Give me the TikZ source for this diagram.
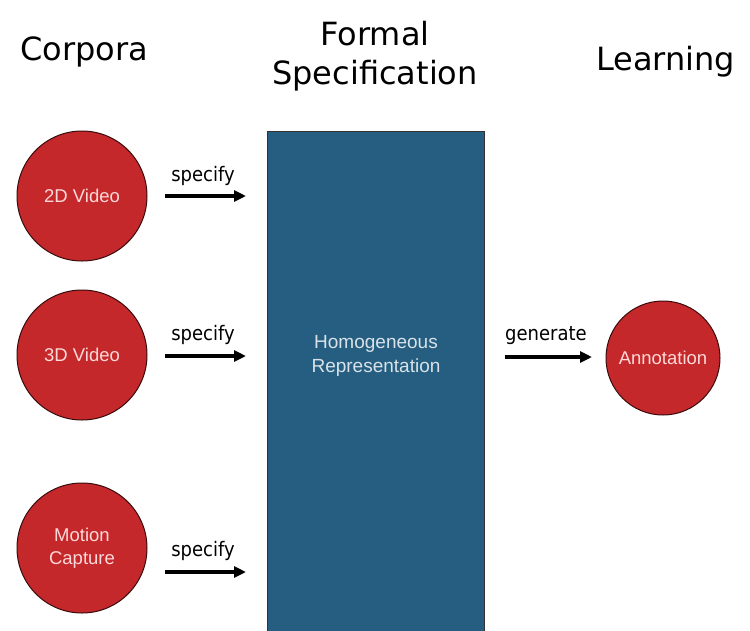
\documentclass[tikz,border=0pt]{standalone}
\usepackage{fontspec}
\setmainfont{DejaVu Sans}
\newfontfamily\labelfont{DejaVu Sans Condensed}
\newfontfamily\nodefont{Liberation Sans}
\usetikzlibrary{arrows.meta}
\definecolor{circred}{HTML}{C4282A}
\definecolor{boxblue}{HTML}{255E80}
\begin{document}
\begin{tikzpicture}[x=1pt,y=-1pt,
  title/.style={font=\fontsize{32}{39}\selectfont, align=center, inner sep=0pt},
  corpus/.style={circle, fill=circred, draw=black!70!circred, line width=1pt, minimum size=130pt, text=white!85!red, font=\nodefont\fontsize{18.5}{23}\selectfont, align=center, inner sep=0pt},
  result/.style={corpus, minimum size=114pt},
  flow/.style={-{Triangle[length=12pt,width=11pt]}, line width=3.5pt, black},
  lbl/.style={font=\labelfont\fontsize{20}{24}\selectfont, inner sep=0pt}]
\useasboundingbox (0,0) rectangle (750,630);
\fill[white] (0,0) rectangle (750,630);
\node[title] (tcorp) at (84,52) {Corpora};
\node[title] (tform) at (375,56) {Formal\\Specification};
\node[title, anchor=west] (tlearn) at (596,62) {Learning};
\node[draw=black!80, fill=boxblue, line width=1.2pt, minimum width=217pt, minimum height=520pt, anchor=north west, inner sep=0pt] (box) at (267,131) {};
\node[text=white!82!boxblue, font=\nodefont\fontsize{19}{24}\selectfont, align=center] (boxtxt) at (376,356) {Homogeneous\\Representation};
\node[corpus] (c2d) at (82,196) {2D Video};
\node[corpus] (c3d) at (82,355) {3D Video};
\node[corpus] (cmc) at (82,548) {Motion\\Capture};
\node[result] (ann) at (663,358) {Annotation};
\coordinate (a1s) at (165,196); \coordinate (a1e) at (246,196);
\coordinate (a2s) at (165,356); \coordinate (a2e) at (246,356);
\coordinate (a3s) at (165,572); \coordinate (a3e) at (246,572);
\coordinate (a4s) at (505,357); \coordinate (a4e) at (592,357);
\draw[flow] (a1s) -- (a1e);
\draw[flow] (a2s) -- (a2e);
\draw[flow] (a3s) -- (a3e);
\draw[flow] (a4s) -- (a4e);
\node[lbl] (l1) at (203,176) {specify};
\node[lbl] (l2) at (203,335) {specify};
\node[lbl] (l3) at (203,551) {specify};
\node[lbl] (l4) at (546,336) {generate};
\end{tikzpicture}
\end{document}
